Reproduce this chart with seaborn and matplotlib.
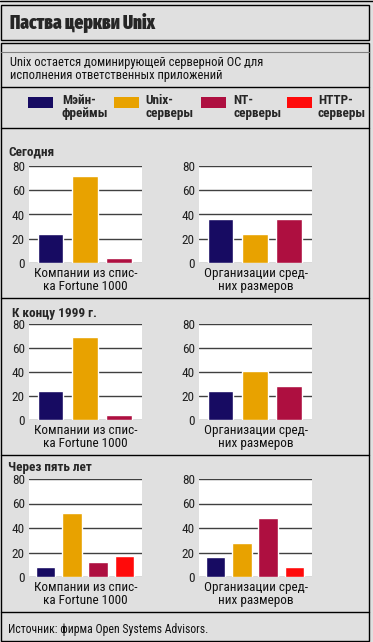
import matplotlib
matplotlib.use("Agg")
import matplotlib.pyplot as plt
import seaborn as sns
from matplotlib.patches import Rectangle
from matplotlib.lines import Line2D

# ---- Datos ------------------------------------------------------------------

series = ["Мэйн-\nфреймы", "Unix-\nсерверы", "NT-\nсерверы", "HTTP-\nсерверы"]
colores = ["#170B62", "#E8A200", "#AE0F40", "#FF0A0A"]

periodos = ["Сегодня", "К концу 1999 г.", "Через пять лет"]
grupos = ["Компании из спис-\nка Fortune 1000", "Организации сред-\nних размеров"]

fortune = [[24, 72, 4], [24, 69, 4], [8, 52, 12, 17]]
medianas = [[36, 24, 36], [24, 41, 28], [16, 28, 48, 8]]
marcas_y = [0, 20, 40, 60, 80]

titulo = "Паства церкви Unix"
subtitulo = "Unix остается доминирующей серверной ОС для\nисполнения ответственных приложений"
fuente = "Источник: фирма Open Systems Advisors."

# ---- Estilo -----------------------------------------------------------------

sns.set_style("white")
COND = ["Roboto Condensed", "DejaVu Sans"]
TIT = ["Fira Sans Extra Condensed", "Oswald", "DejaVu Sans"]
plt.rcParams["font.family"] = COND
GRIS = "#E0E0E0"
W, H = 373, 642


def fx(x):
    return x / W


def fy(y):
    return 1 - y / H


fig = plt.figure(figsize=(W / 100, H / 100), dpi=100, facecolor=GRIS)


def hline(y, x0=1, x1=369, color="black", lw=1.0):
    fig.add_artist(Line2D([fx(x0), fx(x1)], [fy(y), fy(y)], color=color, lw=lw))


def caja(x0, y0, x1, y1):
    fig.add_artist(Rectangle((fx(x0), fy(y1)), fx(x1) - fx(x0), fy(y0) - fy(y1),
                             facecolor="none", edgecolor="black", lw=1.0))


# marcos
hline(0.5, 0, 373)
caja(1, 5, 369, 40)
caja(1, 43, 369, 641)
hline(52, color="#808080", lw=0.8)
hline(87)
hline(128)
hline(298)
hline(455)
hline(612)

fig.text(fx(10), fy(23), titulo, fontsize=13.5, fontweight="black", va="center", ha="left",
         family=TIT)
fig.text(fx(10), fy(69), subtitulo, fontsize=9, va="center", ha="left", linespacing=1.05,
         color="#101010")

# leyenda manual
sw_x = [28, 114, 201, 287]
tx_x = [62, 145, 233, 318]
for sx, tx, lab, col in zip(sw_x, tx_x, series, colores):
    fig.add_artist(Rectangle((fx(sx), fy(108)), fx(25), 11 / H, facecolor=col, edgecolor="none"))
    fig.text(fx(tx), fy(107), lab, fontsize=9.5, fontweight="bold", va="center", ha="left",
             linespacing=0.9)

# ---- Gráficas ---------------------------------------------------------------

filas = [(166, 263), (324, 420), (479, 577)]
columnas = [(29, 142), (199, 312)]
titulos_y = [152, 313, 467]
titulos_x = [8, 12, 8]

for i, periodo in enumerate(periodos):
    fig.text(fx(titulos_x[i]), fy(titulos_y[i]), periodo, fontsize=9.5, fontweight="bold",
             va="center", ha="left")
    y0, y1 = filas[i]
    for j, valores in enumerate([fortune[i], medianas[i]]):
        x0, x1 = columnas[j]
        ax = fig.add_axes([fx(x0), fy(y1), fx(x1) - fx(x0), fy(y0) - fy(y1)])
        n = len(valores)
        nombres = [s.replace("\n", "") for s in series[:n]]
        sns.barplot(x=nombres, y=valores, hue=nombres, palette=colores[:n], legend=False,
                    width=0.75, saturation=1, ax=ax)
        ax.set_facecolor("white")
        ax.set_xlim(-0.63, n - 0.33)
        ax.set_ylim(0, 80)
        ax.set_yticks(marcas_y)
        ax.set_xticks([])
        ax.grid(axis="y", color="#404040", lw=1)
        ax.set_axisbelow(True)
        for s in ax.spines.values():
            s.set_visible(False)
        ax.tick_params(axis="y", length=0, pad=3, labelsize=9.5, labelcolor="#202020")
        ax.set_ylabel("")
        ax.set_xlabel(grupos[j], fontsize=9.5, labelpad=3, linespacing=1.0, color="#101010")

fig.text(fx(8), fy(629), fuente, fontsize=8.5, va="center", ha="left", color="#101010")

fig.savefig("out.png", dpi=100, facecolor=GRIS)
